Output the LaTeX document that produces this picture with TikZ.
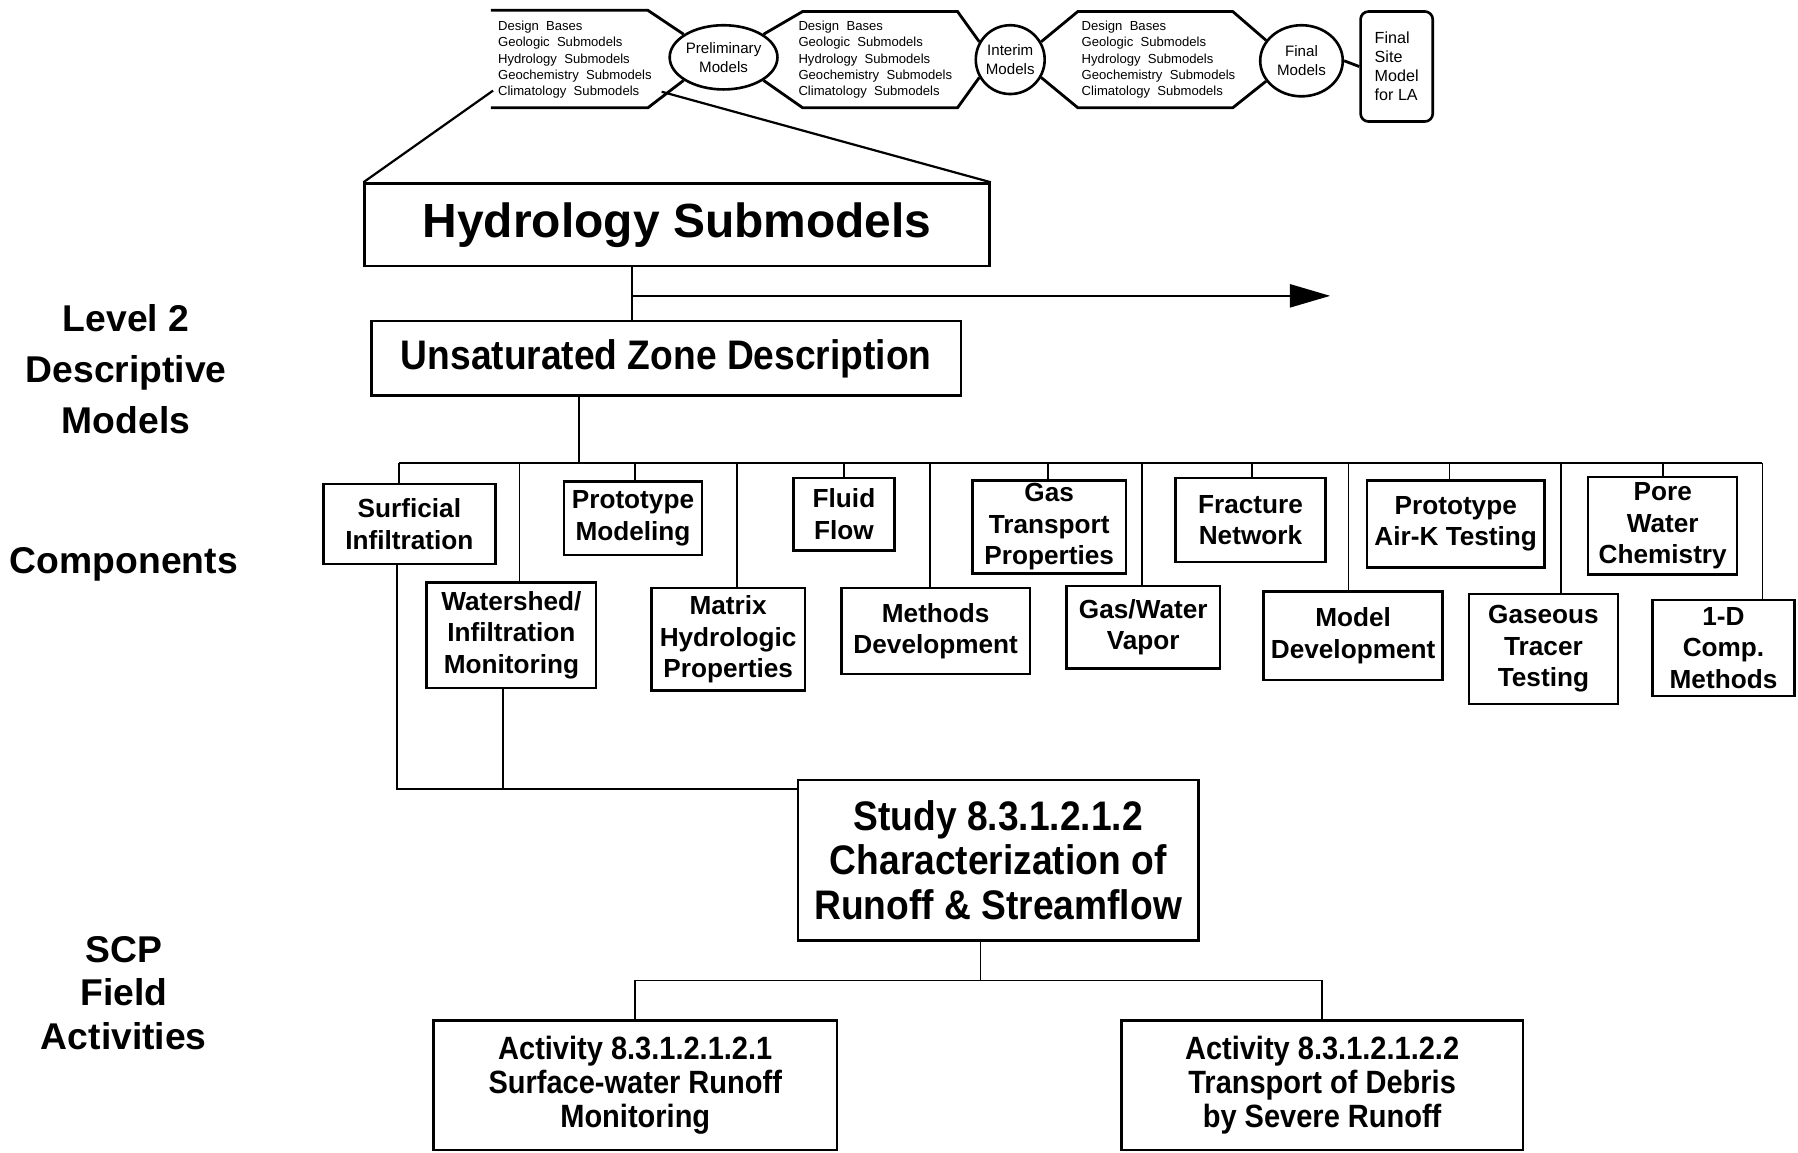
\documentclass[tikz,border=0pt]{standalone}
\usepackage{fontspec}
\setmainfont{Liberation Sans}
\newfontfamily\narrowfont[FakeStretch=0.9]{Liberation Sans}
\usepackage{tikz}
\usetikzlibrary{shapes,arrows.meta}

\newcommand{\basislist}{Design\ \ Bases\\Geologic\ \ Submodels\\Hydrology\ \ Submodels\\Geochemistry\ \ Submodels\\Climatology\ \ Submodels}
\tikzset{boxsize/.style 2 args={minimum width=#1*0.02cm, minimum height=#2*0.02cm}}

\begin{document}
\begin{tikzpicture}[x=0.02cm, y=-0.02cm]
\tikzstyle{box}=[draw=black, line width=1.2pt, inner sep=0pt, align=center]
\tikzstyle{comp}=[box, font=\fontsize{13}{15.6}\selectfont\bfseries]
\tikzstyle{level}=[align=center, font=\fontsize{18.5}{25.3}\selectfont\bfseries]
\tikzstyle{scplevel}=[align=center, font=\fontsize{18.5}{21.6}\selectfont\bfseries]
\tikzstyle{bubble}=[draw=black, line width=1.3pt, ellipse, inner sep=0pt, align=center, font=\fontsize{7.5}{9.2}\selectfont]
\tikzstyle{basis}=[align=left, inner sep=0pt, anchor=west, font=\fontsize{6.5}{8}\selectfont]
\tikzstyle{hex}=[draw=black, line width=1.4pt]
\tikzstyle{link}=[draw=black, line width=0.9pt]
\tikzstyle{zoomline}=[draw=black, line width=1.1pt]
\tikzstyle{ahead}=[-{Triangle[length=20pt, width=11.5pt]}]

\useasboundingbox (0,0) rectangle (1568,1005);

% Model sets along the top
\node[basis] (basesA) at (434,52) {\basislist};
\node[bubble, boxsize={94}{56}] (prelim) at (631,50) {Preliminary\\Models};
\node[basis] (basesB) at (696,52) {\basislist};
\node[bubble, boxsize={54}{60}] (interim) at (881,52) {Interim\\Models};
\node[basis] (basesC) at (943,52) {\basislist};
\node[bubble, boxsize={72}{62}] (final) at (1135,53) {Final\\Models};
\node[box, rounded corners=4pt, boxsize={63}{96}, align=left, line width=1.3pt, font=\fontsize{8}{9.5}\selectfont] (sitemodel) at (1218,58) {Final\\Site\\Model\\for LA};

\path[hex] (428,9) -- (565,9) -- (prelim.150);
\path[hex] (428,94) -- (565,94) -- (prelim.210);
\path[hex] (prelim.30) -- (700,10) -- (835,10) -- (interim.150);
\path[hex] (prelim.-30) -- (700,94) -- (835,94) -- (interim.210);
\path[hex] (interim.30) -- (940,10) -- (1075,10) -- (final.150);
\path[hex] (interim.-30) -- (940,94) -- (1075,94) -- (final.210);
\path[hex] (final.east) -- (sitemodel.west);

% Level labels
\node[level] (lvl) at (110,322) {Level 2\\Descriptive\\Models};
\node[level] (cmp) at (108,492) {Components};
\node[scplevel] (scp) at (108,866) {SCP\\Field\\Activities};

\node[box, boxsize={545}{72}, font=\fontsize{23.8}{28}\selectfont\bfseries] (hydro) at (590.5,196) {Hydrology Submodels};
\node[box, boxsize={514}{65}, font=\narrowfont\bfseries\fontsize{20.5}{24}\selectfont] (unsat) at (581,312.5) {Unsaturated Zone Description};

\coordinate (zoomL) at (430,79);
\coordinate (zoomR) at (577,80);
\path[zoomline] (zoomL) -- (hydro.north west);
\path[zoomline] (zoomR) -- (hydro.north east);

\coordinate (fork) at (551,258);
\coordinate (onward) at (1160,258);
\path[link] (hydro.south -| fork) -- (unsat.north -| fork);
\path[link, ahead] (fork) -- (onward);

% Components
\node[comp, boxsize={150}{70}] (surf) at (357,457) {Surficial\\Infiltration};
\node[comp, boxsize={148}{92}] (water) at (446,554) {Watershed/\\Infiltration\\Monitoring};
\node[comp, boxsize={120}{64}] (protomod) at (552,452) {Prototype\\Modeling};
\node[comp, boxsize={134}{89}] (matrix) at (635,557.5) {Matrix\\Hydrologic\\Properties};
\node[comp, boxsize={88}{63}] (fluid) at (736,448.5) {Fluid\\Flow};
\node[comp, boxsize={164}{75}] (methods) at (816,550.5) {Methods\\Development};
\node[comp, boxsize={134}{81}] (gastrans) at (915,459.5) {Gas\\Transport\\Properties};
\node[comp, boxsize={134}{72}] (gaswater) at (997,547) {Gas/Water\\Vapor};
\node[comp, boxsize={131}{73}] (fracture) at (1090.5,453.5) {Fracture\\Network};
\node[comp, boxsize={156}{77}] (modeldev) at (1180,554.5) {Model\\Development};
\node[comp, boxsize={155}{76}] (airk) at (1269.5,457) {Prototype\\Air-K Testing};
\node[comp, boxsize={130}{96}] (tracer) at (1346,566) {Gaseous\\Tracer\\Testing};
\node[comp, boxsize={130}{85}] (pore) at (1450,458.5) {Pore\\Water\\Chemistry};
\node[comp, boxsize={124}{84}] (onedim) at (1503,565) {1-D\\Comp.\\Methods};

\coordinate (uzdrop) at (505,404);
\coordinate (busL) at (348,404);
\coordinate (busR) at (1537,404);
\path[link] (unsat.south -| uzdrop) -- (uzdrop);
\path[link] (busL) -- (busR);
\foreach \name/\bx in {surf/348, water/453, protomod/554, matrix/643, fluid/736, methods/811, gastrans/914, gaswater/996, fracture/1092, modeldev/1176, airk/1264, tracer/1361, pore/1450, onedim/1537}
{
  \coordinate (b\name) at (\bx,404);
  \path[link] (b\name) -- (\name.north -| b\name);
}

% Study and field activities
\node[box, boxsize={349}{140}, font=\narrowfont\bfseries\fontsize{20.5}{22}\selectfont] (study) at (870.5,750) {Study 8.3.1.2.1.2\\Characterization of\\Runoff \& Streamflow};
\node[box, boxsize={352}{113}, font=\narrowfont\bfseries\fontsize{16}{17}\selectfont] (act1) at (554,946.5) {Activity 8.3.1.2.1.2.1\\Surface-water Runoff\\Monitoring};
\node[box, boxsize={350}{113}, font=\narrowfont\bfseries\fontsize{16}{17}\selectfont] (act2) at (1153,946.5) {Activity 8.3.1.2.1.2.2\\Transport of Debris\\by Severe Runoff};

\coordinate (feed) at (346,688);
\coordinate (feedW) at (439,688);
\path[link] (surf.south -| feed) -- (feed) -- (feed -| study.west);
\path[link] (water.south -| feedW) -- (feedW);

\coordinate (split) at (855,855);
\path[link] (study.south -| split) -- (split);
\path[link] (act1.north) |- (split) -| (act2.north);
\end{tikzpicture}
\end{document}
